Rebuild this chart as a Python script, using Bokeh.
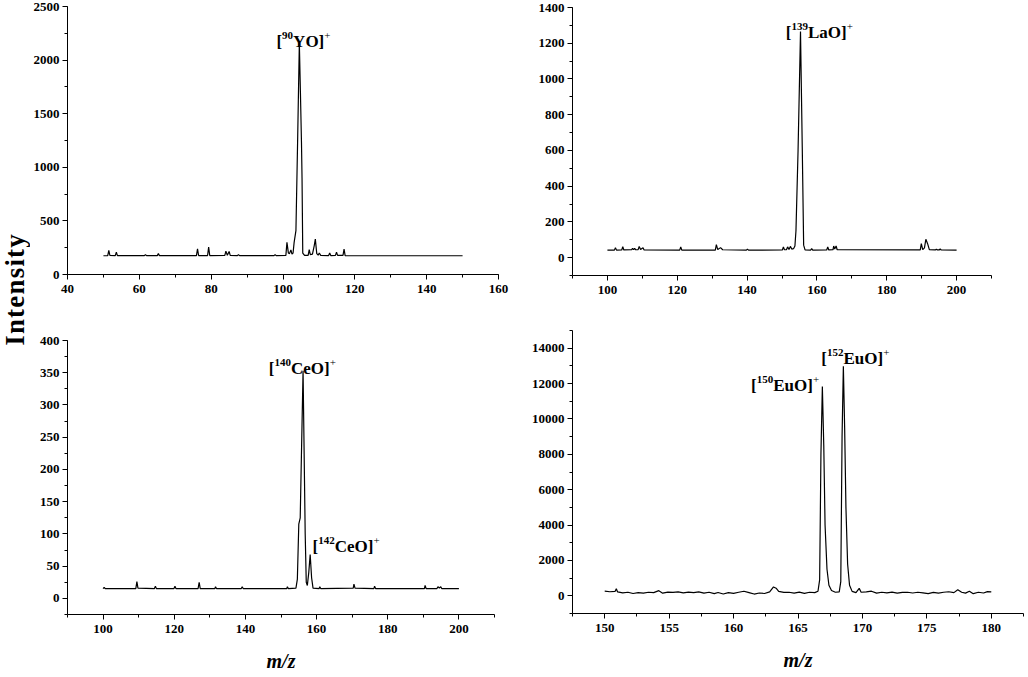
import math
from bokeh.plotting import figure
from bokeh.layouts import row, column
from bokeh.models import Range1d, SingleIntervalTicker, Div
from bokeh.core.properties import value
from bokeh.embed import file_html
from bokeh.resources import INLINE

FONT = "Liberation Serif"

# ---------------- data ----------------
# Panel 1: [90YO]+
yo_mz = [50.0, 51.2, 51.5, 51.8, 53.3, 53.6, 53.9, 61.4, 61.7, 62.0, 65.0, 65.3, 65.6,
         75.9, 76.2, 76.5, 79.0, 79.3, 79.6, 83.8, 84.1, 84.5, 85.0, 85.3, 87.3, 87.6, 87.9,
         97.5, 97.8, 98.1, 100.8, 101.1, 101.5, 101.8, 102.2, 102.5, 102.8, 103.1, 103.6,
         104.1, 104.55, 104.85, 105.15, 105.3, 105.5, 106.0, 107.0, 107.3, 107.6, 108.2,
         108.7, 109.0, 109.4, 109.8, 110.1, 110.5, 112.7, 113.0, 113.3, 114.6, 114.9, 115.2,
         116.7, 117.0, 117.3, 150.0]
yo_int = [175, 175, 225, 178, 176, 208, 176, 176, 186, 176, 176, 195, 176,
          176, 240, 177, 177, 255, 177, 178, 218, 180, 215, 178, 176, 186, 176,
          176, 186, 176, 178, 300, 200, 195, 230, 190, 200, 300, 410,
          1300, 2160, 1700, 1220, 900, 200, 178, 178, 232, 185, 190,
          270, 330, 195, 180, 200, 178, 177, 200, 177, 178, 208, 178,
          178, 236, 177, 175]

# Panel 2: [139LaO]+
lao_mz = [100.0, 102.0, 102.3, 102.6, 104.1, 104.4, 104.7, 106.9, 107.2, 107.5, 107.8, 108.1,
          108.8, 109.1, 109.5, 110.2, 110.5, 120.7, 121.0, 121.3, 130.9, 131.2, 131.6, 132.4,
          133.0, 139.8, 140.1, 140.4, 150.1, 150.4, 150.7, 151.3, 151.6, 152.0, 152.4, 152.8,
          153.3, 153.7, 154.0, 154.6, 155.3, 155.8, 156.2, 156.6, 158.2, 158.5, 158.8, 162.8,
          163.1, 163.4, 164.6, 164.8, 165.1, 165.5, 165.8, 189.6, 189.9, 190.3, 190.8, 191.2,
          191.7, 192.2, 193.9, 194.2, 194.5, 195.0, 195.3, 195.6, 200.0]
lao_int = [42, 42, 56, 42, 43, 62, 43, 44, 52, 45, 52, 44,
           45, 62, 45, 55, 43, 42, 60, 42, 42, 73, 45, 56,
           44, 42, 48, 42, 43, 60, 44, 45, 60, 46, 63, 48,
           50, 65, 150, 600, 1265, 620, 70, 43, 42, 50, 42, 43,
           60, 43, 44, 65, 48, 65, 44, 43, 78, 45, 55, 103,
           78, 45, 43, 47, 43, 43, 48, 43, 42]

# Panel 3: [140CeO]+ / [142CeO]+
ceo_mz = [100.0, 100.3, 100.6, 109.2, 109.5, 109.8, 114.4, 114.7, 115.0, 119.9, 120.2, 120.5,
          126.7, 127.0, 127.3, 131.4, 131.6, 131.9, 138.8, 139.1, 139.4, 151.6, 151.8, 152.1,
          154.2, 154.6, 155.0, 155.4, 156.2, 156.8, 157.1, 157.4, 157.8, 158.2, 158.6, 159.0,
          160.7, 160.9, 161.2, 170.3, 170.5, 170.8, 176.1, 176.3, 176.6, 190.3, 190.5, 190.8,
          193.8, 194.1, 194.5, 194.9, 195.2, 200.0]
ceo_int = [15, 17, 15, 15, 26, 16, 15, 19, 15, 15, 19, 15,
           15, 25, 15, 15, 18, 15, 15, 18, 15, 15, 18, 15,
           16, 30, 115, 125, 353, 100, 25, 20, 40, 68, 32, 16,
           15, 18, 15, 16, 22, 16, 15, 19, 15, 15, 20, 15,
           15, 18, 16, 18, 15, 15]

# Panel 4: [150EuO]+ / [152EuO]+
euo_mz = [150.0, 150.4, 150.8, 150.9, 151.0, 151.4, 151.8, 152.2, 152.6, 153.0, 153.4, 153.8,
          154.2, 154.5, 154.9, 155.3, 155.7, 156.1, 156.5, 156.9, 157.3, 157.7, 158.1, 158.5,
          158.8, 159.2, 159.6, 160.0, 160.4, 160.8, 161.2, 161.6, 162.0, 162.4, 162.8, 163.1,
          163.3, 163.5, 163.9, 164.3, 164.7, 165.1, 165.5, 165.9, 166.3, 166.55, 166.68, 166.78,
          166.89, 167.0, 167.1, 167.25, 167.4, 167.6, 167.9, 168.2, 168.32, 168.42, 168.52,
          168.62, 168.72, 168.85, 169.0, 169.2, 169.5, 169.75, 169.9, 170.3, 170.7, 171.1,
          171.5, 171.9, 172.3, 172.7, 173.1, 173.5, 173.9, 174.3, 174.7, 175.1, 175.5, 175.9,
          176.3, 176.7, 177.1, 177.4, 177.7, 178.0, 178.3, 178.6, 179.0, 179.4, 179.7, 180.0]
euo_int = [260, 230, 250, 400, 220, 170, 200, 130, 180, 150, 200, 180,
           290, 150, 210, 190, 220, 170, 210, 180, 220, 150, 200, 120,
           190, 100, 180, 140, 200, 260, 180, 100, 160, 130, 220, 500,
           430, 250, 190, 200, 150, 210, 140, 200, 180, 260, 900, 8000,
           11830, 8500, 4000, 1500, 600, 300, 200, 220, 800, 9000, 12980,
           9500, 5000, 1800, 600, 250, 180, 420, 200, 220, 260, 150,
           200, 170, 210, 150, 190, 200, 160, 200, 170, 120, 190, 150,
           200, 230, 180, 340, 200, 150, 260, 120, 200, 160, 240, 220]

# Peak annotations: (m/z, intensity, isotope, species)
yo_labels = [(105.7, 2170, "90", "YO")]
lao_labels = [(160.7, 1260, "139", "LaO")]
ceo_labels = [(156.0, 357, "140", "CeO"), (168.3, 81, "142", "CeO")]
euo_labels = [(164.0, 11865, "150", "EuO"), (169.45, 13418, "152", "EuO")]

Y_TITLE = "Intensity"
X_TITLE = "m/z"

# ---------------- helpers ----------------
WID = {'[': 333, ']': 333, 'Y': 722, 'O': 778, 'L': 667, 'a': 500, 'C': 722,
       'e': 444, 'E': 667, 'u': 556, '+': 564}
for d in "0123456789":
    WID[d] = 500


def twidth(s, size):
    return sum(WID.get(c, 500) for c in s) * size / 1000.0


def add_peak_label(p, x, y, iso, species, main=17, sup=11, raise_px=6):
    pieces = [("[", main, 0), (iso, sup, raise_px), (species + "]", main, 0), ("+", sup, raise_px)]
    total = sum(twidth(t, s) for t, s, _ in pieces)
    off = -total / 2.0
    for t, s, dy in pieces:
        style = "normal" if t == "+" else "bold"
        p.text(x=[x], y=[y], text=[t], x_offset=off, y_offset=-dy,
               text_align="left", text_baseline="alphabetic",
               text_font=value(FONT), text_font_style=style,
               text_font_size=f"{s}px", text_color="black")
        off += twidth(t, s)


def make_panel(xs, ys, xr, yr, xint, yint, fw, fh, left, right, top, bottom, xlabel=None):
    p = figure(output_backend="svg", toolbar_location=None,
               frame_width=fw, frame_height=fh,
               x_range=Range1d(*xr), y_range=Range1d(*yr),
               min_border_left=left, min_border_right=right,
               min_border_top=top, min_border_bottom=bottom)
    p.line(xs, ys, line_color="black", line_width=1.2)
    p.xgrid.visible = False
    p.ygrid.visible = False
    p.outline_line_color = None
    p.background_fill_color = "white"
    p.border_fill_color = "white"
    p.xaxis.ticker = SingleIntervalTicker(interval=xint, num_minor_ticks=2)
    p.yaxis.ticker = SingleIntervalTicker(interval=yint, num_minor_ticks=2)
    for ax in (p.xaxis, p.yaxis):
        ax.axis_line_color = "black"
        ax.axis_line_width = 1
        ax.major_tick_line_color = "black"
        ax.minor_tick_line_color = "black"
        ax.major_tick_in = 0
        ax.major_tick_out = 5
        ax.minor_tick_in = 0
        ax.minor_tick_out = 3
        ax.major_label_text_font = FONT
        ax.major_label_text_font_style = "bold"
        ax.major_label_text_font_size = "13px"
        ax.major_label_text_color = "black"
    p.xaxis.major_label_standoff = 5
    p.yaxis.major_label_standoff = 3
    if xlabel:
        p.xaxis.axis_label = xlabel
        p.xaxis.axis_label_text_font = FONT
        p.xaxis.axis_label_text_font_style = "bold italic"
        p.xaxis.axis_label_text_font_size = "20px"
        p.xaxis.axis_label_text_color = "black"
        p.xaxis.axis_label_standoff = 14
    return p


STRIP = 30      # width of the strip holding the vertical title
LEFT = 36       # left border of both left-column panels (frames start at x = 66)
RLEFT = 51      # left border of both right-column panels (frames start at x = 571)

p1 = make_panel(yo_mz, yo_int, (40, 160), (0, 2500), 20, 500, 431, 268, LEFT, 490 - LEFT - 431, 6, 46)
p3 = make_panel(ceo_mz, ceo_int, (90, 210), (-25, 400), 20, 50, 427, 274, LEFT, 490 - LEFT - 427, 20, 63, X_TITLE)
p2 = make_panel(lao_mz, lao_int, (90, 210), (-100, 1400), 20, 200, 419, 268, RLEFT, 508 - RLEFT - 419, 7, 45)
p4 = make_panel(euo_mz, euo_int, (147.5, 182.5), (-1000, 15000), 5, 2000, 451, 283, RLEFT, 508 - RLEFT - 451, 10, 64, X_TITLE)

for pp, labs in ((p1, yo_labels), (p2, lao_labels), (p3, ceo_labels), (p4, euo_labels)):
    for (x, y, iso, sp) in labs:
        add_peak_label(pp, x, y, iso, sp)

# Left strip carrying the shared, vertical y-axis title (vertical writing mode,
# turned so that it reads bottom-to-top)
ytitle_html = (
    f'<div style="width:{STRIP}px;height:677px;display:flex;align-items:center;'
    'justify-content:center;box-sizing:border-box;padding-bottom:98px;">'
    '<span style="display:inline-block;writing-mode:vertical-rl;transform:rotate(180deg);'
    "white-space:nowrap;font-family:'Liberation Serif';font-weight:bold;font-size:27px;"
    f'letter-spacing:1.2px;line-height:{STRIP}px;width:{STRIP}px;color:black;">'
    + Y_TITLE + '</span></div>'
)
lab = Div(text=ytitle_html, width=STRIP, height=677, margin=0)

layout = row(lab, column(p1, p3), column(p2, p4))

with open("out.html", "w") as f:
    f.write(file_html(layout, INLINE))
